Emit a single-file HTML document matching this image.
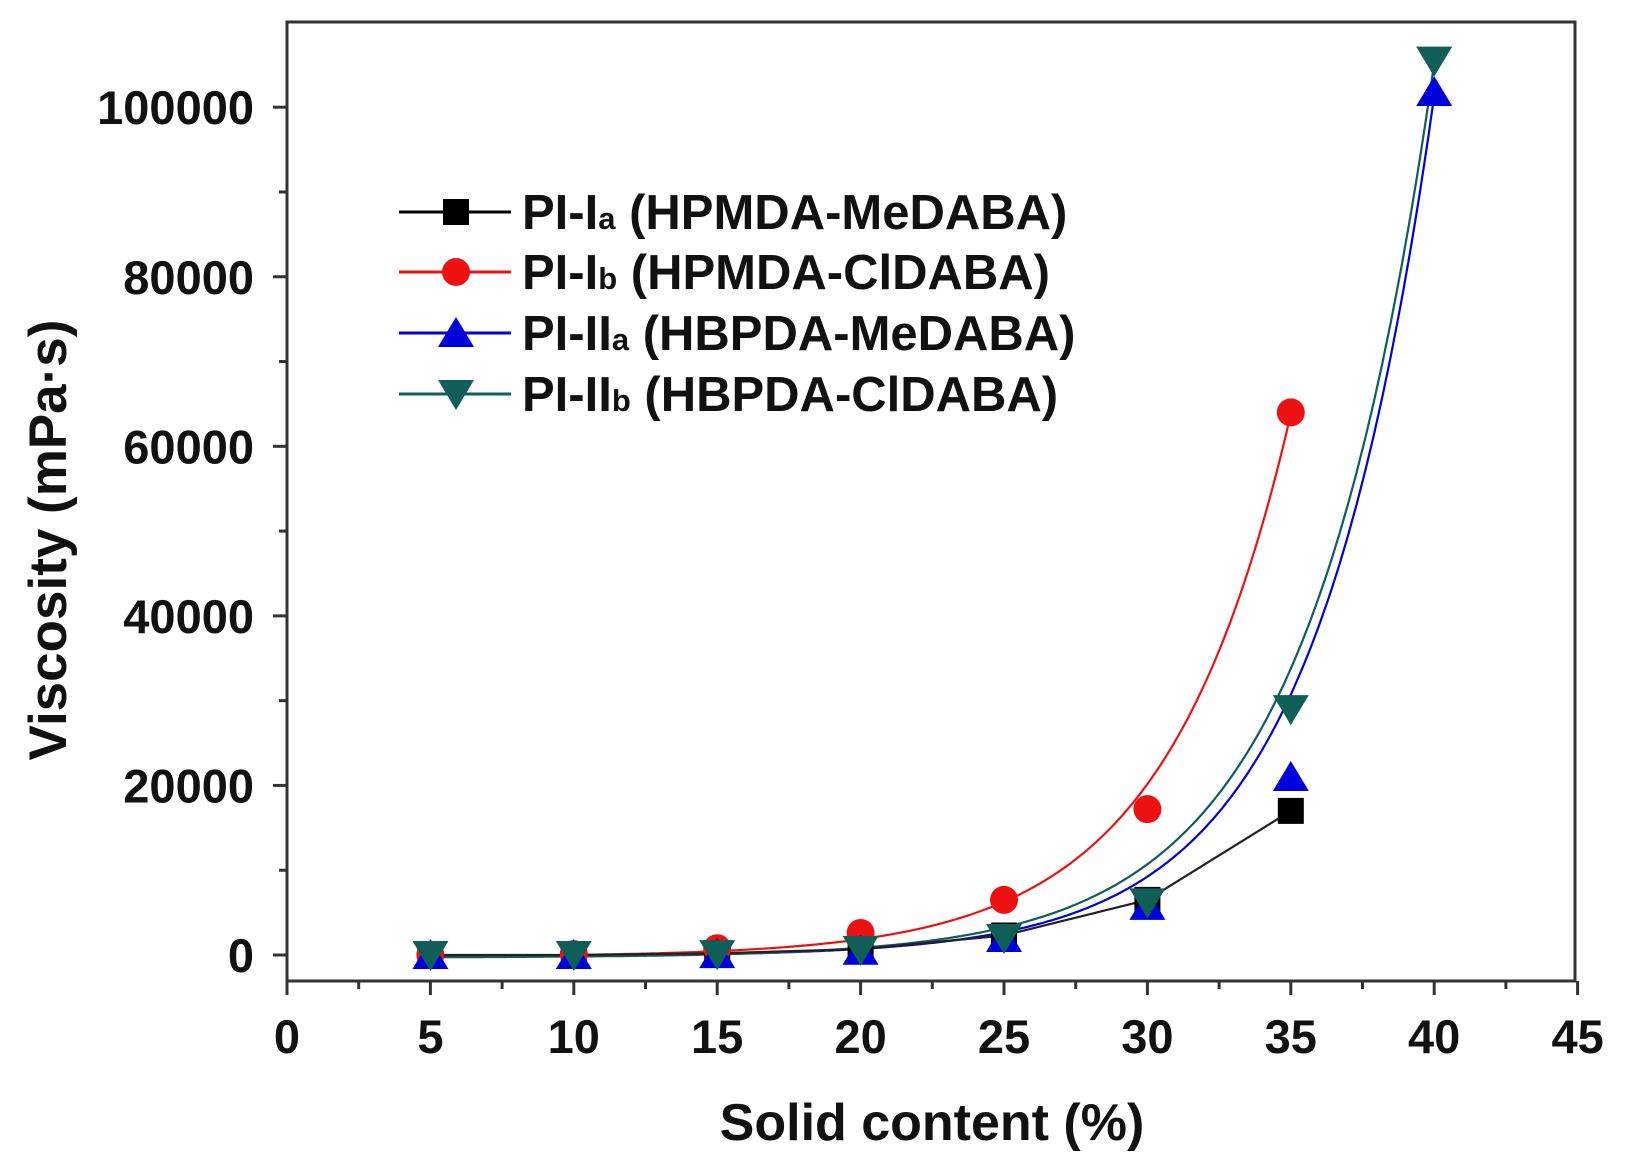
<!DOCTYPE html>
<html><head><meta charset="utf-8"><style>
html,body{margin:0;padding:0;background:#fff;}
svg{display:block;}
text{font-family:"Liberation Sans",Arial,sans-serif;font-weight:bold;fill:#111;}
</style></head><body>
<svg id="s" width="1626" height="1159" viewBox="0 0 1626 1159" xmlns="http://www.w3.org/2000/svg">
<rect width="1626" height="1159" fill="#fff"/>
<rect x="287" y="22" width="1288" height="959" fill="none" stroke="#333" stroke-width="3"/>
<g id="ticks" stroke="#333" stroke-width="3"></g>
<g id="labels" font-size="47"></g>
<text x="932" y="1140" font-size="52" text-anchor="middle">Solid content (%)</text>
<text transform="translate(66,540) rotate(-90)" font-size="53" text-anchor="middle">Viscosity (mPa·s)</text>
<g id="curves" fill="none" stroke-width="2.2"></g>
<g id="marks"></g>
<g id="legend"></g>
</svg>
<script>
const NS="http://www.w3.org/2000/svg";
const X=v=>287+v*28.68, Y=v=>955-v*0.008478;
function el(p,t,a,txt){const e=document.createElementNS(NS,t);for(const k in a)e.setAttribute(k,a[k]);if(txt!=null)e.textContent=txt;document.getElementById(p).appendChild(e);return e;}
for(let v=0;v<=45;v+=2.5){const x=X(v);const major=v%5==0;el('ticks','line',{x1:x,x2:x,y1:981,y2:981+(major?14:8)});
 if(major)el('labels','text',{x:x,y:1053,'text-anchor':'middle'},String(v));}
for(let v=0;v<=100000;v+=10000){const y=Y(v);const major=v%20000==0;el('ticks','line',{x1:287,x2:287-(major?14:8),y1:y,y2:y});
 if(major)el('labels','text',{x:254,y:y+17,'text-anchor':'end'},String(v));}
function curve(f,col,x0,x1){let d='';for(let x=x0;x<=x1+1e-9;x+=0.1){d+=(d?'L':'M')+X(x).toFixed(1)+','+Y(f(x)).toFixed(1);}el('curves','path',{d:d,stroke:col});}
const red='#ee1111',blue='#0000dd',teal='#0f5e58',blk='#000';
curve(x=>64000*Math.exp(0.229*(x-35))-200,red,5,35);
curve(x=>101500*Math.exp(0.238*(x-40))-150,blue,5,40);
curve(x=>105500*Math.exp(0.226*(x-40))-300,teal,5,40);
const bd=[[5,0],[10,0],[15,200],[20,700],[25,2300],[30,6500],[35,17000]];
el('curves','path',{d:'M'+bd.map(p=>X(p[0])+','+Y(p[1])).join('L'),stroke:'#222'});
function sq(x,y,c,g='marks'){el(g,'rect',{x:x-13,y:y-13,width:26,height:26,fill:c});}
function ci(x,y,c,g='marks'){el(g,'circle',{cx:x,cy:y,r:14,fill:c});}
function tu(x,y,c,g='marks'){el(g,'polygon',{points:`${x-18},${y+14} ${x+18},${y+14} ${x},${y-16}`,fill:c});}
function td(x,y,c,g='marks'){el(g,'polygon',{points:`${x-18},${y-14} ${x+18},${y-14} ${x},${y+16}`,fill:c});}
bd.forEach(p=>sq(X(p[0]),Y(p[1]),blk));
[[5,0],[10,100],[15,800],[20,2600],[25,6500],[30,17200],[35,64000]].forEach(p=>ci(X(p[0]),Y(p[1]),red));
[[5,0],[10,0],[15,100],[20,500],[25,2000],[30,5800],[35,21000],[40,101800]].forEach(p=>tu(X(p[0]),Y(p[1]),blue));
[[5,0],[10,0],[15,100],[20,600],[25,2000],[30,6200],[35,29000],[40,105500]].forEach(p=>td(X(p[0]),Y(p[1]),teal));
const L=[[212,blk,sq,'PI-I','a',' (HPMDA-MeDABA)'],[272,red,ci,'PI-I','b',' (HPMDA-ClDABA)'],[333,blue,tu,'PI-II','a',' (HBPDA-MeDABA)'],[394,teal,td,'PI-II','b',' (HBPDA-ClDABA)']];
L.forEach(r=>{const y=r[0];el('legend','line',{x1:399,x2:511,y1:y,y2:y,stroke:r[1],'stroke-width':3});r[2](456,y,r[1],'legend');
 const t=el('legend','text',{x:522,y:y+17,'font-size':49});
 const a=document.createElementNS(NS,'tspan');a.textContent=r[3];t.appendChild(a);
 const b=document.createElementNS(NS,'tspan');b.setAttribute('font-size','31');b.textContent=r[4];t.appendChild(b);
 const c=document.createElementNS(NS,'tspan');c.textContent=r[5];t.appendChild(c);});
</script>
</body></html>
